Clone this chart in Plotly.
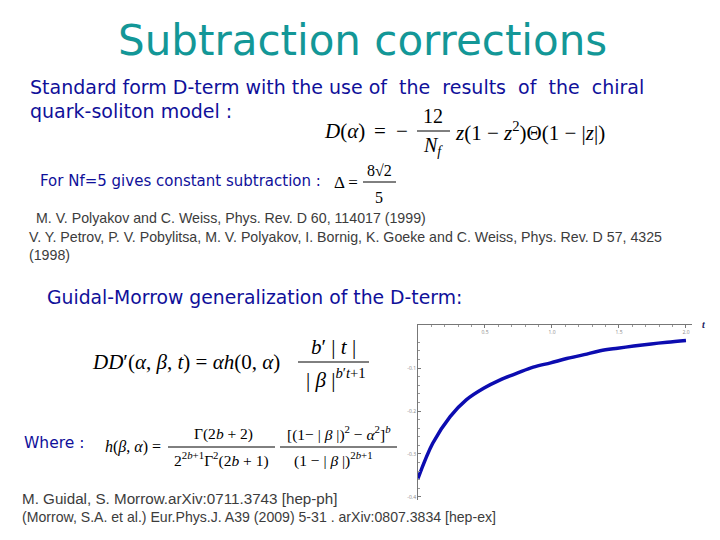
import plotly.graph_objects as go

# curve (t, D-term value)
t_vals = [0.0, 0.11, 0.24, 0.36, 0.49, 0.61, 0.74, 0.86, 0.99,
          1.11, 1.24, 1.36, 1.49, 1.61, 1.74, 1.86, 2.0]
d_vals = [-0.357, -0.275, -0.213, -0.174, -0.147, -0.128, -0.112, -0.098, -0.088,
          -0.078, -0.069, -0.060, -0.054, -0.049, -0.044, -0.040, -0.036]

x_tickvals = [0.5, 1.0, 1.5, 2.0]
x_ticktext = ["0.5", "1.0", "1.5", "2.0"]
y_tickvals = [-0.1, -0.2, -0.3, -0.4]
y_ticktext = ["-0.1", "-0.2", "-0.3", "-0.4"]

W, H = 720, 540
BLUE = "#10109a"
TEAL = "#139797"
GREY = "#3c3c3c"
SLIDE_FONT = "DejaVu Sans"
REF_FONT = "Liberation Sans"
MATH_FONT = "Liberation Serif"


def px(x):
    return x / W


def py(y):
    return 1 - y / H


annotations = []
shapes = []


def text(x, y, s, size, color="black", family=SLIDE_FONT, anchor="left"):
    annotations.append(dict(x=px(x), y=py(y), xref="paper", yref="paper",
                            text=s, showarrow=False, xanchor=anchor, yanchor="middle",
                            font=dict(size=size, color=color, family=family)))


def hline(x0, x1, y):
    shapes.append(dict(type="line", xref="paper", yref="paper",
                       x0=px(x0), x1=px(x1), y0=py(y), y1=py(y),
                       line=dict(color="black", width=1)))


fig = go.Figure()
fig.add_trace(go.Scatter(x=t_vals, y=d_vals, mode="lines",
                         line=dict(color="#0c0cb0", width=3.5, shape="spline"),
                         showlegend=False, hoverinfo="skip"))

# title and slide text
text(362, 40, "Subtraction corrections", 42, TEAL, anchor="center")
text(28, 87, "Standard form D-term with the use of  the  results  of  the  chiral", 19, BLUE)
text(28, 111, "quark-soliton model :", 19, BLUE)

# D(alpha) formula
text(322, 131, "<i>D</i>(<i>α</i>)", 21, family=MATH_FONT)
text(380, 131, "=", 21, family=MATH_FONT, anchor="center")
text(402, 131, "−", 21, family=MATH_FONT, anchor="center")
text(433, 116, "12", 20, family=MATH_FONT, anchor="center")
text(433, 146, "<i>N<sub>f</sub></i>", 20, family=MATH_FONT, anchor="center")
hline(417, 450, 131)
text(453, 131, "<i>z</i>(1 − <i>z</i><sup>2</sup>)Θ(1 − |<i>z</i>|)", 21, family=MATH_FONT)

text(38, 181, "For Nf=5 gives constant subtraction :", 15, BLUE)
text(332, 182, "Δ =", 17, family=MATH_FONT)
text(379, 170, "8√2", 16, family=MATH_FONT, anchor="center")
text(379, 197, "5", 16, family=MATH_FONT, anchor="center")
hline(363, 396, 182)

# references
text(30, 218, " M. V. Polyakov and C. Weiss, Phys. Rev. D 60, 114017 (1999)", 14.2, GREY, REF_FONT)
text(27, 237, "V. Y. Petrov, P. V. Pobylitsa, M. V. Polyakov, I. Bornig, K. Goeke and C. Weiss, "
              "Phys. Rev. D 57, 4325", 14.2, GREY, REF_FONT)
text(27, 255, "(1998)", 14.2, GREY, REF_FONT)

text(45, 297, "Guidal-Morrow generalization of the D-term:", 18.8, BLUE)

# DD' formula
text(90, 362, "<i>DD</i>′(<i>α</i>, <i>β</i>, <i>t</i>) = <i>αh</i>(0, <i>α</i>)", 21, family=MATH_FONT)
text(333, 347, "<i>b</i>′ | <i>t</i> |", 21, family=MATH_FONT, anchor="center")
text(336, 378, "| <i>β</i> |<sup><i>b</i>′<i>t</i>+1</sup>", 21, family=MATH_FONT, anchor="center")
hline(298, 369, 362)

# h(beta, alpha) formula
text(22, 443, "Where :", 15.5, BLUE)
text(103, 447, "<i>h</i>(<i>β</i>, <i>α</i>) =", 16, family=MATH_FONT)
text(223, 434, "Γ(2<i>b</i> + 2)", 15.5, family=MATH_FONT, anchor="center")
text(221, 459, "2<sup>2<i>b</i>+1</sup>Γ<sup>2</sup>(2<i>b</i> + 1)", 15.5, family=MATH_FONT, anchor="center")
hline(168, 275, 447)
text(339, 433, "[(1− | <i>β</i> |)<sup>2</sup> − <i>α</i><sup>2</sup>]<sup><i>b</i></sup>", 15.5,
     family=MATH_FONT, anchor="center")
text(333, 459, "(1 − | <i>β</i> |)<sup>2<i>b</i>+1</sup>", 15.5, family=MATH_FONT, anchor="center")
hline(280, 397, 447)

text(20, 498, "M. Guidal, S. Morrow.arXiv:0711.3743 [hep-ph]", 15.2, GREY, REF_FONT)
text(20, 517, "(Morrow, S.A. et al.) Eur.Phys.J. A39 (2009) 5-31 . arXiv:0807.3834 [hep-ex]",
     14.1, GREY, REF_FONT)

# axis label of the inset
text(704, 324, "<b><i>t</i></b>", 10, "#1a1a60", MATH_FONT, anchor="center")

fig.update_layout(
    width=W, height=H,
    margin=dict(l=0, r=0, t=0, b=0),
    paper_bgcolor="white", plot_bgcolor="white",
    showlegend=False,
    annotations=annotations, shapes=shapes,
    xaxis=dict(domain=[px(418), px(692)], range=[0, 2.045], side="top",
               anchor="y", showgrid=False, zeroline=False,
               showline=True, linecolor="#777777", linewidth=1,
               tickvals=x_tickvals, ticktext=x_ticktext,
               ticks="inside", ticklen=3, tickcolor="#777777",
               ticklabelposition="inside",
               minor=dict(dtick=0.1, ticks="inside", ticklen=2, tickcolor="#999999"),
               tickfont=dict(size=5, color="#888888")),
    yaxis=dict(domain=[py(500), py(325)], range=[-0.407, 0],
               anchor="x", showgrid=False, zeroline=False,
               showline=True, linecolor="#777777", linewidth=1,
               tickvals=y_tickvals, ticktext=y_ticktext,
               ticks="inside", ticklen=3, tickcolor="#777777",
               minor=dict(dtick=0.02, ticks="inside", ticklen=2, tickcolor="#999999"),
               tickfont=dict(size=5, color="#888888")),
)

# the page body has a default 8px margin; drop it so the slide fills the window
fig.write_html("out.html", config={"displayModeBar": False},
               post_script="document.body.style.margin='0';")
